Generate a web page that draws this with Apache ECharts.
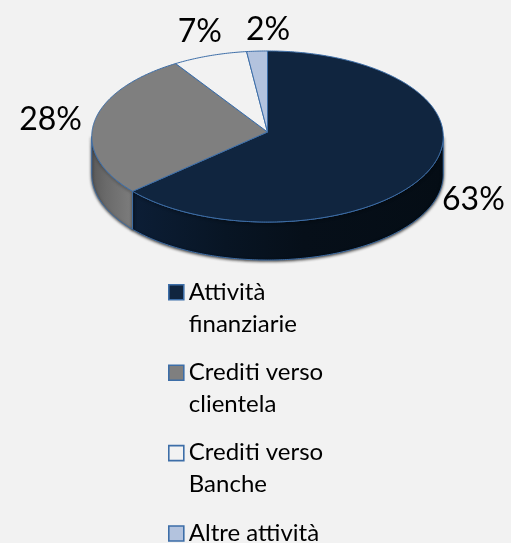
<!DOCTYPE html>
<html><head><meta charset="utf-8">
<style>html,body{margin:0;padding:0;background:#f2f2f2}#c{width:511px;height:543px}</style>
<script src="https://cdn.jsdelivr.net/npm/echarts@6/dist/echarts.min.js"></script>
</head><body><div id="c"></div>
<script>
const categories = ['Attività finanziarie', 'Crediti verso clientela', 'Crediti verso Banche', 'Altre attività'];
const legendLines = ['Attività\nfinanziarie', 'Crediti verso\nclientela', 'Crediti verso\nBanche', 'Altre attività\n '];
const values = [63.3, 27.5, 7.2, 2.0];
const percentLabels = ['63%', '28%', '7%', '2%'];
const topColors = ['#10253f', '#7f7f7f', '#f2f2f2', '#b3c3de'];

// Projection of the tilted disc
const cx = 267.5, hubY = 132, rx = 175.5, ryP = 85.3, k = 0.0526, depth = 38;
const edge = '#3d6ea8';
const font = 'Lato, Carlito, sans-serif';
const total = values.reduce((a, b) => a + b, 0);
const project = (deg, dy = 0) => {
  const t = deg * Math.PI / 180, x = Math.sin(t), y = -Math.cos(t), d = 1 - k * y;
  return [cx + rx * x / d, hubY + ryP * y / d + dy];
};
const arc = (a, b, dy = 0) => {
  const n = Math.max(2, Math.ceil(Math.abs(b - a) * 1.5)), out = [];
  for (let i = 0; i <= n; i++) out.push(project(a + (b - a) * i / n, dy));
  return out;
};
const silhouetteR = 90 + Math.asin(k) * 180 / Math.PI;   // right tangent of the rim
const silhouetteL = 270 - Math.asin(k) * 180 / Math.PI;  // left tangent of the rim
const wallFills = [
  { type: 'linear', x: 0, y: 0, x2: 1, y2: 0, colorStops: [
    { offset: 0, color: '#0c1e36' }, { offset: .3, color: '#081524' },
    { offset: .55, color: '#060f19' }, { offset: 1, color: '#050d15' }] },
  { type: 'linear', x: 0, y: 0, x2: 1, y2: 0, colorStops: [
    { offset: 0, color: '#5a5a5a' }, { offset: .35, color: '#6a6a6a' }, { offset: 1, color: '#7d7d7d' }] },
  '#f2f2f2', '#b3c3de'
];
const labelOffsets = [[42, 32], [-44, -1], [-10, -24], [11, -21]];

let acc = 0;
const spans = values.map(v => { const s = [acc / total * 360, (acc + v) / total * 360]; acc += v; return s; });

function renderer(i) {
  return function () {
    const [a, b] = spans[i];
    const children = [];
    const wa = Math.max(a, silhouetteR), wb = Math.min(b, silhouetteL);
    if (wb > wa) {
      const top = arc(wa, wb), bot = arc(wb, wa, depth);
      children.push({
        type: 'polygon', shape: { points: top.concat(bot) },
        style: { fill: wallFills[i], stroke: edge, lineWidth: 1,
          shadowBlur: 3, shadowColor: 'rgba(0,0,0,0.75)', shadowOffsetY: 1 }
      });
    }
    children.push({
      type: 'polygon', shape: { points: [[cx, hubY]].concat(arc(a, b)) },
      style: { fill: topColors[i], stroke: edge, lineWidth: 1, lineJoin: 'round' }
    });
    const mid = project((a + b) / 2);
    children.push({
      type: 'text', z2: 10,
      style: { x: mid[0] + labelOffsets[i][0], y: mid[1] + labelOffsets[i][1], text: percentLabels[i],
        fill: '#000', fontFamily: font, fontSize: 32, align: 'center', verticalAlign: 'middle' }
    });
    return { type: 'group', children };
  };
}
const iconPath = 'path://M0 9H15V24H0Z M0 0L0 0 M0 64L0 64';
const option = {
  backgroundColor: '#f2f2f2',
  animation: false,
  legend: {
    orient: 'vertical', left: 168, top: 275, height: 340, itemWidth: 15, itemHeight: 64, itemGap: 14.8,
    selectedMode: false, padding: 0,
    data: categories.map((name, i) => ({
      name, icon: iconPath,
      itemStyle: { color: topColors[i], borderColor: edge, borderWidth: 1.6 }
    })),
    formatter: name => legendLines[categories.indexOf(name)],
    textStyle: { fontFamily: font, fontSize: 24, lineHeight: 32, color: '#000' },
    itemStyle: { borderColor: edge, borderWidth: 1.6 }
  },
  series: categories.map((name, i) => ({
    type: 'custom', name, coordinateSystem: 'none', silent: true,
    data: [values[i]], renderItem: renderer(i), clip: false,
    itemStyle: { color: topColors[i] }
  }))
};
echarts.init(document.getElementById('c'), null, { renderer: 'canvas' }).setOption(option);
</script></body></html>
